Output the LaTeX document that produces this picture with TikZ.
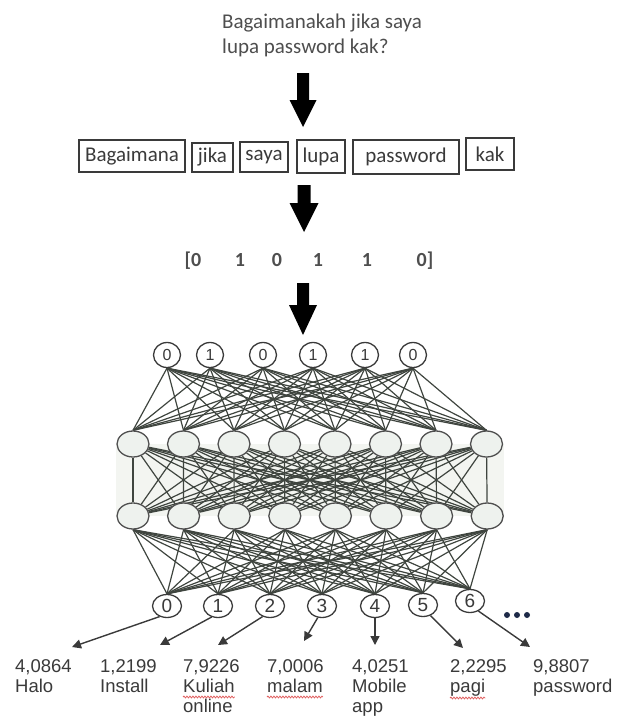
\documentclass[tikz,border=0pt]{standalone}
\usepackage{fontspec}
\setmainfont{Liberation Sans}
\newfontfamily\calfont{Carlito}
\usetikzlibrary{arrows.meta,shapes.geometric,backgrounds,decorations.pathmorphing}

\definecolor{ink}{HTML}{3A3A3A}
\definecolor{softink}{HTML}{4E4E4E}
\definecolor{edgecol}{HTML}{3F453F}
\definecolor{nodefill}{HTML}{EEF2EE}
\definecolor{tint}{HTML}{F3F5F1}
\definecolor{squigred}{HTML}{E06060}
\definecolor{dotblue}{HTML}{1E2A48}

\tikzset{
  qtext/.style={anchor=base west, inner sep=0, text=softink,
    font=\calfont\fontsize{21}{24}\selectfont},
  wordbox/.style={draw=ink, line width=1.3pt, inner sep=0, text=ink,
    font=\calfont\fontsize{21}{24}\selectfont},
  vecitem/.style={anchor=base, inner sep=0, text=softink,
    font=\calfont\bfseries\fontsize{20}{24}\selectfont},
  bigarrow/.style={fill=black},
  innode/.style={ellipse, draw=ink, line width=1.3pt, fill=white,
    minimum width=27pt, minimum height=25pt, inner sep=0, text=ink,
    font=\fontsize{16}{18}\selectfont},
  hidnode/.style={ellipse, draw=softink, line width=1.3pt, fill=nodefill,
    minimum width=32pt, minimum height=26pt, inner sep=0},
  outnode/.style={ellipse, draw=ink, line width=1.3pt, fill=white,
    minimum width=29pt, minimum height=23pt, inner sep=0, text=ink,
    font=\fontsize{19}{21}\selectfont},
  edge/.style={draw=edgecol, line width=1.2pt},
  outarrow/.style={draw=ink, line width=1.4pt,
    -{Triangle[length=9pt,width=9pt]}},
  lbl/.style={anchor=base west, inner sep=0, text=ink,
    font=\fontsize{18.5}{20}\selectfont},
  squig/.style={draw=squigred, line width=0.8pt,
    decorate, decoration={snake, amplitude=0.9pt, segment length=3pt}}
}

\begin{document}
\begin{tikzpicture}[x=1pt,y=-1pt]
\useasboundingbox (0,0) rectangle (617,717);

% question
\node[qtext] (q1) at (222,29) {Bagaimanakah jika saya};
\node[qtext] (q2) at (222,53) {lupa password kak?};

% arrow: question -> tokens
\fill[bigarrow] (297,73) -- (309,73) -- (309,100) -- (316.5,100) -- (303,127)
  -- (289.5,100) -- (297,100) -- cycle;

% tokens
\node[wordbox, minimum width=106pt, minimum height=32pt] (w1) at (132,156) {Bagaimana};
\node[wordbox, minimum width=41pt, minimum height=29pt] (w2) at (212.5,157.5) {jika};
\node[wordbox, minimum width=48pt, minimum height=30pt] (w3) at (264,157) {saya};
\node[wordbox, minimum width=48pt, minimum height=33pt] (w4) at (321,156.5) {lupa};
\node[wordbox, minimum width=106pt, minimum height=34pt] (w5) at (406,157) {password};
\node[wordbox, minimum width=48pt, minimum height=32pt] (w6) at (490,154) {kak};

% arrow: tokens -> vector
\fill[bigarrow] (297.5,185) -- (310.5,185) -- (310.5,203) -- (318.5,203) -- (304,232)
  -- (289.5,203) -- (297.5,203) -- cycle;

% binary vector
\node[vecitem] (b1) at (193,266) {[0};
\node[vecitem] (b2) at (240,266) {1};
\node[vecitem] (b3) at (277,266) {0};
\node[vecitem] (b4) at (318,266) {1};
\node[vecitem] (b5) at (367,266) {1};
\node[vecitem] (b6) at (425,266) {0]};

% arrow: vector -> network
\fill[bigarrow] (297,283) -- (309,283) -- (309,305) -- (317,305) -- (303,335)
  -- (289,305) -- (297,305) -- cycle;

% network layers
\foreach \x/\v [count=\i from 0] in {167/0,210/1,263/0,313/1,365/1,413/0}
  \node[innode] (in\i) at (\x,355) {\v};
\foreach \i in {0,...,7}
  \node[hidnode] (ha\i) at ({133+50.5*\i},444) {};
\foreach \i in {0,...,7}
  \node[hidnode] (hb\i) at ({133+50.6*\i},516) {};
\foreach \x/\yy [count=\i from 0] in {167/606,218/606,270/606,322/606,375/606,423/605,470/601}
  \node[outnode] (out\i) at (\x,\yy) {\i};

\begin{scope}[on background layer]
  \fill[tint] (ha0.west) rectangle (hb7.east);
  \foreach \i in {0,...,5}
    \foreach \j in {0,...,7}
      \draw[edge] (in\i.south) -- (ha\j.north);
  \foreach \i in {0,...,7}
    \foreach \j in {0,...,7}
      \draw[edge] (ha\i) -- (hb\j);
  \foreach \i in {0,...,7}
    \foreach \j in {0,...,6}
      \draw[edge] (hb\i.south) -- (out\j.north);
\end{scope}

% ellipsis after the last output
\foreach \k in {0,1,2}
  \fill[dotblue] ({507+10*\k},615) circle (3pt);

% output values and classes
\node[lbl] (v0) at (15,672) {4,0864};
\node[lbl] (n0) at (15,692) {Halo};
\node[lbl] (v1) at (100,672) {1,2199};
\node[lbl] (n1) at (100,692) {Install};
\node[lbl] (v2) at (183,672) {7,9226};
\node[lbl] (n2) at (183,692) {Kuliah};
\node[lbl] (m2) at (183,712) {online};
\node[lbl] (v3) at (267,672) {7,0006};
\node[lbl] (n3) at (267,692) {malam};
\node[lbl] (v4) at (352,672) {4,0251};
\node[lbl] (n4) at (352,692) {Mobile};
\node[lbl] (m4) at (352,712) {app};
\node[lbl] (v5) at (450,672) {2,2295};
\node[lbl] (n5) at (450,692) {pagi};
\node[lbl] (v6) at (533,672) {9,8807};
\node[lbl] (n6) at (533,692) {password};

% spell-check underlines
\draw[squig] ([yshift=-5pt]n2.base west) -- ([yshift=-5pt]n2.base east);
\draw[squig] ([yshift=-5pt]n3.base west) -- ([yshift=-5pt]n3.base east);
\draw[squig] ([yshift=-6pt]n5.base west) -- ([yshift=-6pt]n5.base east);

% arrow tips above the values
\coordinate (t0) at (72,647);
\coordinate (t1) at (160,645);
\coordinate (t2) at (218,645);
\coordinate (t3) at (304,641);
\coordinate (t4) at (375,645);
\coordinate (t5) at (463,648);
\coordinate (t6) at (530,647);

\draw[outarrow] (out0.-125) -- (t0);
\draw[outarrow] (out1.-120) -- (t1);
\draw[outarrow] (out2.-125) -- (t2);
\draw[outarrow] (out3.-110) -- (t3);
\draw[outarrow] (out4.south) -- (t4);
\draw[outarrow] (out5.-55) -- (t5);
\draw[outarrow] (out6.-50) -- (t6);
\end{tikzpicture}
\end{document}
